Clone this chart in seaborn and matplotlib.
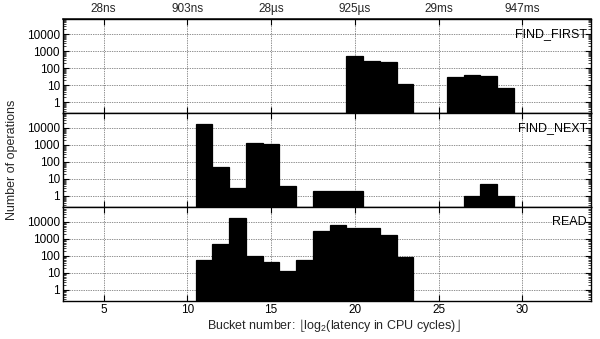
import matplotlib
matplotlib.use('Agg')
import matplotlib.pyplot as plt
import matplotlib.transforms as mtransforms
from matplotlib.ticker import FixedLocator, LogLocator, NullFormatter
import seaborn as sns
import pandas as pd

# ---- data ----
first_buckets = [20, 21, 22, 23, 26, 27, 28, 29]
first_counts = [480, 275, 240, 11, 29, 41, 36, 7]
next_buckets = [11, 12, 13, 14, 15, 16, 18, 19, 20, 27, 28, 29]
next_counts = [17000, 49, 3, 1300, 1130, 4, 2, 2, 2, 1, 5, 1]
read_buckets = [11, 12, 13, 14, 15, 16, 17, 18, 19, 20, 21, 22, 23]
read_counts = [60, 525, 16000, 100, 46, 13, 60, 2850, 6600, 4400, 4400, 1580, 83]
panel_names = ['FIND_FIRST', 'FIND_NEXT', 'READ']
x_ticks = [5, 10, 15, 20, 25, 30]
top_labels = ['28ns', '903ns', '28µs', '925µs', '29ms', '947ms']
y_ticks = [1, 10, 100, 1000, 10000]
y_tick_labels = ['1', '10', '100', '1000', '10000']

sns.set_theme(style='white')
plt.rcParams['font.family'] = ['Liberation Sans', 'DejaVu Sans']
plt.rcParams['mathtext.default'] = 'regular'
plt.rcParams['mathtext.fontset'] = 'dejavusans'
FS = 8.5
LFS = 9

fig, axes = plt.subplots(3, 1, figsize=(6.0, 3.39), dpi=100, sharex=True)
fig.subplots_adjust(left=0.1055, right=0.985, top=0.944, bottom=0.113, hspace=0)

datasets = [(first_buckets, first_counts), (next_buckets, next_counts), (read_buckets, read_counts)]

for i, (ax, (bk, ct), name) in enumerate(zip(axes, datasets, panel_names)):
    df = pd.DataFrame({'bucket': bk, 'count': ct})
    sns.barplot(data=df, x='bucket', y='count', native_scale=True, width=1.0,
                color='black', edgecolor='black', linewidth=0.9, saturation=1,
                errorbar=None, ax=ax)
    ax.set_yscale('log')
    ax.set_ylim(0.23, 77000)
    ax.set_xlim(2.6, 34.1)
    ax.set_axisbelow(True)
    ax.yaxis.set_major_locator(FixedLocator(y_ticks))
    ax.set_yticklabels(y_tick_labels)
    ax.yaxis.set_minor_locator(LogLocator(base=10, subs=range(2, 10), numticks=20))
    ax.yaxis.set_minor_formatter(NullFormatter())
    ax.xaxis.set_major_locator(FixedLocator(x_ticks))
    ax.grid(True, which='major', axis='both', linestyle=(0, (1.0, 1.5)),
            color='#222222', linewidth=0.5)
    ax.tick_params(axis='both', which='major', direction='in', length=4, width=0.8,
                   top=True, right=True, left=True, bottom=True,
                   labelsize=FS, colors='black', pad=2.5)
    ax.tick_params(axis='y', which='minor', direction='in', length=2, width=0.6,
                   left=True, right=True)
    ax.tick_params(axis='x', labelbottom=(i == 2), labeltop=False)
    ax.set_xlabel('')
    ax.set_ylabel('')
    for sp in ax.spines.values():
        sp.set_color('black')
        sp.set_linewidth(1.0)
    trans = mtransforms.blended_transform_factory(ax.transAxes, ax.transData)
    ax.text(0.992, 10000, name, transform=trans, ha='right', va='center',
            fontsize=LFS, color='black')

axes[2].set_xticks(x_ticks)
axes[2].set_xticklabels([str(v) for v in x_ticks])

top = axes[0].secondary_xaxis('top')
top.set_xticks(x_ticks)
top.set_xticklabels(top_labels)
top.tick_params(direction='in', length=0, labelsize=FS, pad=3)

fig.text(0.02, 0.528, 'Number of operations', rotation=90, ha='center', va='center',
         fontsize=LFS)
fig.text(0.556, 0.04,
         r'Bucket number: $\lfloor\mathregular{log_2}$(latency in CPU cycles)$\rfloor$',
         ha='center', va='center', fontsize=LFS)

fig.savefig('out.png', dpi=100)
